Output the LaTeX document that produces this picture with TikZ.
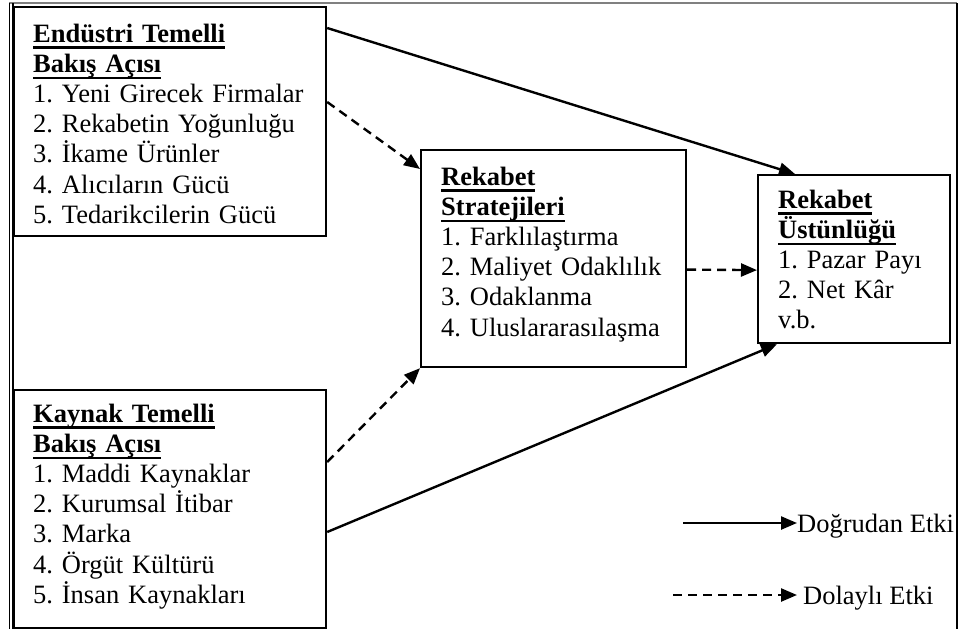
\documentclass[tikz,border=0pt]{standalone}
\usepackage{fontspec}
\setmainfont{Liberation Serif}
\usetikzlibrary{arrows.meta,calc}
\frenchspacing
\newlength{\hdw}
\newcommand{\hd}[1]{\settowidth{\hdw}{\textbf{#1}}\textbf{#1}\llap{\rule[-7pt]{\hdw}{2.6pt}}}
\begin{document}
\begin{tikzpicture}[x=1pt, y=-1pt,
      box/.style = {draw, line width=2.2pt, anchor=north west, inner sep=0pt},
      txt/.style = {anchor=base west, inner sep=0pt, text width=300pt, align=left, font=\fontsize{26.5}{30.2}\selectfont},
      lbl/.style = {anchor=base west, inner sep=0pt, font=\fontsize{26.5}{30}\selectfont},
      direct/.style = {line width=2.4pt, -{Triangle[length=16pt,width=13pt]}},
      indirect/.style = {direct, dash pattern=on 9pt off 6pt}]
      \useasboundingbox (0,0) rectangle (960,629);
      \draw[gray, line width=1.5pt] (9,3) -- (957,3);
      \draw[line width=1.2pt] (9.5,3) -- (9.5,629) (13,3) -- (13,629);
      \draw[line width=1.5pt] (957,3) -- (957,629);

      \node[box, minimum width=312pt, minimum height=229pt] (ind) at (13,6) {};
      \node[box, minimum width=265pt, minimum height=217pt] (str) at (420,149) {};
      \node[box, minimum width=192pt, minimum height=168pt] (ust) at (757,174) {};
      \node[box, minimum width=312pt, minimum height=238pt] (kay) at (13,389) {};

      \node[txt] (indT) at ([shift={(20,36)}]ind.north west)
        {\hd{Endüstri Temelli}\\ \hd{Bakış Açısı}\\ 1. Yeni Girecek Firmalar\\ 2. Rekabetin Yoğunluğu\\
         3. İkame Ürünler\\ 4. Alıcıların Gücü\\ 5. Tedarikcilerin Gücü};
      \node[txt] (strT) at ([shift={(21,36)}]str.north west)
        {\hd{Rekabet}\\ \hd{Stratejileri}\\ 1. Farklılaştırma\\ 2. Maliyet Odaklılık\\ 3. Odaklanma\\
         4. Uluslararasılaşma};
      \node[txt] (ustT) at ([shift={(21,34)}]ust.north west)
        {\hd{Rekabet}\\ \hd{Üstünlüğü}\\ 1. Pazar Payı\\ 2. Net Kâr\\ v.b.};
      \node[txt] (kayT) at ([shift={(20,33)}]kay.north west)
        {\hd{Kaynak Temelli}\\ \hd{Bakış Açısı}\\ 1. Maddi Kaynaklar\\ 2. Kurumsal İtibar\\ 3. Marka\\
         4. Örgüt Kültürü\\ 5. İnsan Kaynakları};

      \draw[direct] ([yshift=-22]ind.north east) -- ([xshift=38]ust.north west);
      \draw[indirect] ([yshift=-96]ind.north east) -- ([yshift=-20]str.north west);
      \draw[indirect] ([yshift=-73]kay.north east) -- (str.south west);
      \draw[direct] ([yshift=-143]kay.north east) -- ([xshift=20]ust.south west);
      \draw[indirect] ([yshift=-11]str.east) -- ([yshift=-11]ust.west);

      \node[lbl] (dir) at (797,532) {Doğrudan Etki};
      \node[lbl] (dol) at (803,604) {Dolaylı Etki};
      \coordinate (d1) at (683,523);
      \coordinate (d2) at (673,595);
      \draw[direct] (d1) -- (d1 -| dir.west);
      \draw[indirect] (d2) -- ([xshift=-6]d2 -| dol.west);
\end{tikzpicture}
\end{document}
